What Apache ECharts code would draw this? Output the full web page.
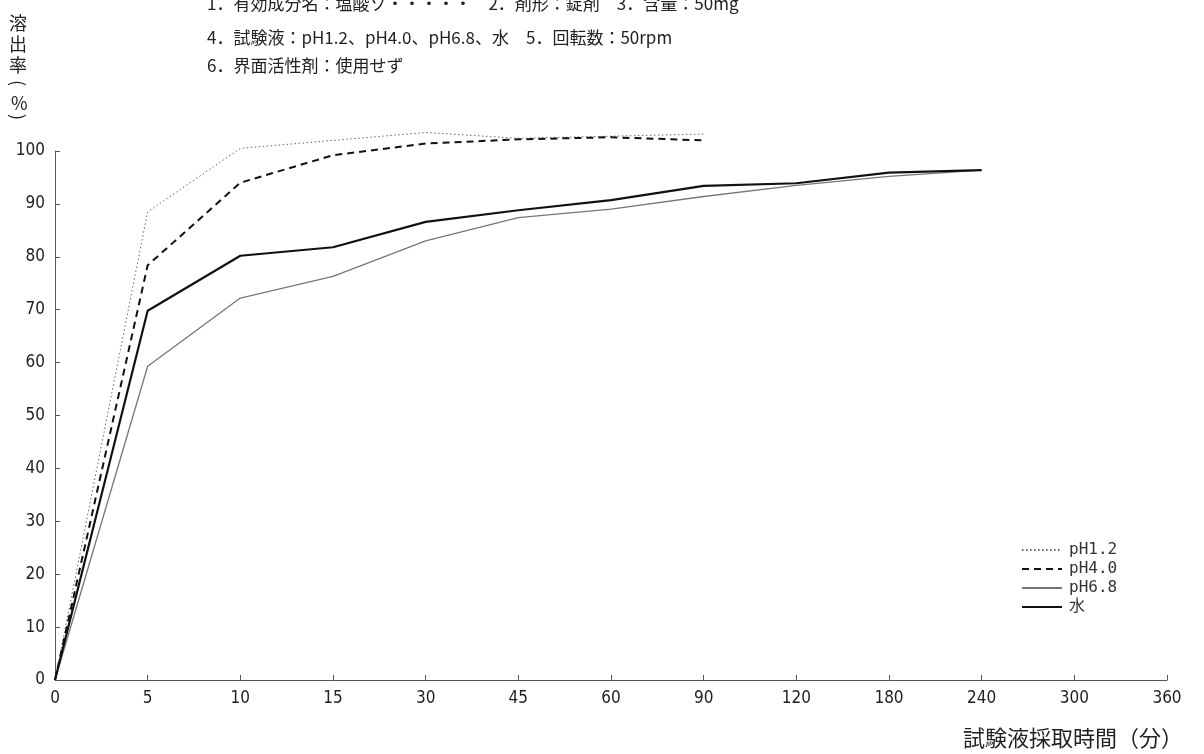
<!DOCTYPE html>
<html><head><meta charset="utf-8">
<script src="https://cdn.jsdelivr.net/npm/echarts@6/dist/echarts.min.js"></script>
<style>html,body{margin:0;padding:0;background:#fff}#c{width:1204px;height:754px}</style>
</head><body><div id="c"></div>
<script>
const categories = ['0','5','10','15','30','45','60','90','120','180','240','300','360'];
const seriesNames = ['pH1.2','pH4.0','pH6.8','水'];
const pH12 = [0, 88.5, 100.5, 102.0, 103.5, 102.4, 102.8, 103.2];
const pH40 = [0, 78.4, 94.0, 99.2, 101.4, 102.2, 102.6, 102.0];
const pH68 = [0, 59.3, 72.2, 76.3, 83.0, 87.4, 89.0, 91.4, 93.5, 95.2, 96.4];
const water = [0, 69.8, 80.2, 81.8, 86.6, 88.8, 90.7, 93.4, 93.9, 95.9, 96.4];
const yTicks = {min: 0, max: 100, interval: 10};
const headerLines = [
  '1．有効成分名：塩酸ソ・・・・・　2．剤形：錠剤　3．含量：50mg',
  '4．試験液：pH1.2、pH4.0、pH6.8、水　5．回転数：50rpm',
  '6．界面活性剤：使用せず'
];
const yName = ['溶','出','率'];
const xName = '試験液採取時間（分）';

const chart = echarts.init(document.getElementById('c'));
const numFont = '"Liberation Sans Narrow","DejaVu Sans Condensed","Roboto Condensed",sans-serif';
const jpFont = '"Noto Sans CJK JP",sans-serif';
const mk = (name, data, color, width, type) => ({
  name, type: 'line', data, symbol: 'none', clip: false, smooth: false,
  lineStyle: {color, width, type}, itemStyle: {color}
});
const yNameGraphics = yName.map((ch, i) => ({
  type: 'text', left: 9, top: 14 + i * 21, style: {text: ch, font: '18px ' + jpFont, fill: '#222'}
}));
yNameGraphics.push(
  {type: 'text', x: 27, y: 80, rotation: -Math.PI / 2, style: {text: '(', font: '18px ' + jpFont, fill: '#222'}},
  {type: 'text', left: 11, top: 94, style: {text: '%', font: '18px ' + jpFont, fill: '#222'}},
  {type: 'text', x: 27, y: 114, rotation: -Math.PI / 2, style: {text: ')', font: '18px ' + jpFont, fill: '#222'}}
);
chart.setOption({
  animation: false,
  backgroundColor: '#fff',
  grid: {left: 55, right: 37, top: 151, bottom: 74},
  xAxis: {
    type: 'category', data: categories, boundaryGap: false,
    axisLine: {lineStyle: {color: '#555', width: 1}},
    axisTick: {inside: true, length: 5, alignWithLabel: true, lineStyle: {color: '#555'}},
    axisLabel: {color: '#222', fontSize: 17, fontFamily: numFont, margin: 10},
    splitLine: {show: false}
  },
  yAxis: {
    type: 'value', min: yTicks.min, max: yTicks.max, interval: yTicks.interval,
    axisLine: {show: true, lineStyle: {color: '#555', width: 1}},
    axisTick: {show: true, inside: true, length: 5, lineStyle: {color: '#555'}},
    axisLabel: {color: '#222', fontSize: 17, fontFamily: numFont, margin: 10},
    splitLine: {show: false}
  },
  legend: {
    orient: 'vertical', left: 1016, top: 537,
    itemWidth: 40, itemHeight: 14, itemGap: 3,
    itemStyle: {opacity: 0},
    textStyle: {fontSize: 16, fontFamily: '"DejaVu Sans Mono",' + jpFont, color: '#333', padding: [0,0,0,2]},
    data: seriesNames
  },
  series: [
    mk(seriesNames[0], pH12, '#666', 1, [1.5, 2.5]),
    mk(seriesNames[1], pH40, '#111', 2, [7, 5]),
    mk(seriesNames[2], pH68, '#777', 1.3, 'solid'),
    mk(seriesNames[3], water, '#111', 2.2, 'solid')
  ],
  graphic: [
    {type: 'text', left: 207, top: -5, style: {text: headerLines[0], font: '17px ' + jpFont, fill: '#222'}},
    {type: 'text', left: 207, top: 29, style: {text: headerLines[1], font: '17px ' + jpFont, fill: '#222'}},
    {type: 'text', left: 207, top: 57, style: {text: headerLines[2], font: '17px ' + jpFont, fill: '#222'}},
    {type: 'text', right: 21, top: 727, style: {text: xName, font: '22px ' + jpFont, fill: '#222'}}
  ].concat(yNameGraphics)
});
</script></body></html>
